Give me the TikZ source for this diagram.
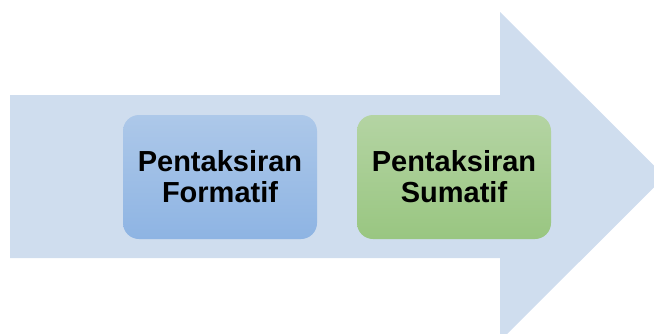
\documentclass[tikz,border=0pt]{standalone}
\usepackage{fontspec}
\setmainfont{Liberation Sans}
\definecolor{arrowblue}{HTML}{CFDDEE}
\definecolor{blueTop}{HTML}{ADC8E9}
\definecolor{blueBot}{HTML}{8EB4E3}
\definecolor{greenTop}{HTML}{B4D4A3}
\definecolor{greenBot}{HTML}{99C681}
\begin{document}
\begin{tikzpicture}[x=1pt,y=-1pt]
        \tikzstyle{every node}=[rectangle, rounded corners=16pt, minimum width=194pt, minimum height=124pt, align=center, font=\fontsize{29}{31}\selectfont\bfseries, text=black]
        \tikzstyle{formbox}=[top color=blueTop, bottom color=blueBot]
        \tikzstyle{sumbox}=[top color=greenTop, bottom color=greenBot]

        \useasboundingbox (0,0) rectangle (654,333);
        \clip (0,0) rectangle (654,333);

        \fill[arrowblue] (10,95) -- (500,95) -- (500,12) -- (665,176.5) -- (500,341) -- (500,258) -- (10,258) -- cycle;

        \node[formbox] (formatif) at (220,177) {Pentaksiran\\Formatif};
        \node[sumbox]  (sumatif)  at (454,177) {Pentaksiran\\Sumatif};
    \end{tikzpicture}
\end{document}
